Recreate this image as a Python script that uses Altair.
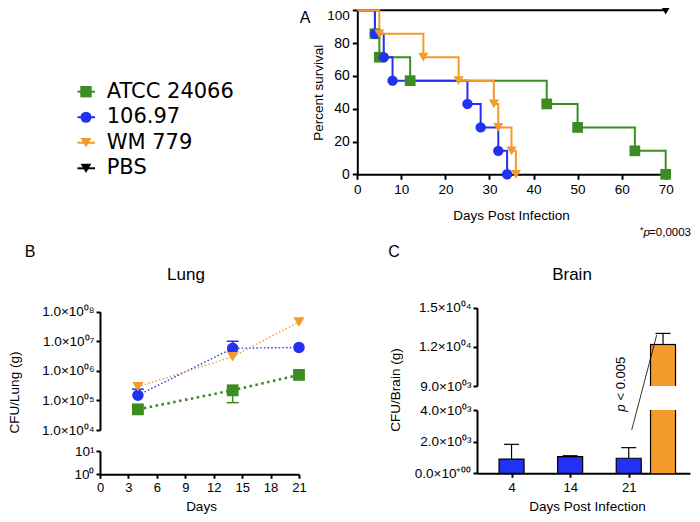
import altair as alt
import pandas as pd

FONT = "Liberation Sans"
LEG_FONT = "DejaVu Sans"
W, H = 684, 506

# ---------------- shared series ----------------
strains = ["ATCC 24066", "106.97", "WM 779", "PBS"]
colors = ["#3b8d22", "#2232f4", "#f39a2c", "#000000"]
shapes = ["square", "circle", "triangle-down", "triangle-down"]

# ---------------- Panel A: survival ----------------
atcc_days = [0, 4, 5, 12, 43, 50, 63, 70]
atcc_surv = [100, 85.7, 71.4, 57.1, 42.9, 28.6, 14.3, 0]
s10697_days = [0, 4, 6, 8, 25, 28, 32, 34]
s10697_surv = [100, 85.7, 71.4, 57.1, 42.9, 28.6, 14.3, 0]
wm779_days = [0, 5, 15, 23, 31, 32, 35, 36]
wm779_surv = [100, 85.7, 71.4, 57.1, 42.9, 28.6, 14.3, 0]
pbs_days = [0, 70]
pbs_surv = [100, 100]
surv_x_ticks = [0, 10, 20, 30, 40, 50, 60, 70]
surv_y_ticks = [0, 20, 40, 60, 80, 100]

# ---------------- Panel B: lung CFU ----------------
lung_days = [4, 14, 21]
lung_atcc = [5.0e4, 2.2e5, 7.3e5]
lung_atcc_lo = [5.0e4, 8.4e4, 7.3e5]
lung_atcc_hi = [5.0e4, 2.2e5, 7.3e5]
lung_10697 = [1.5e5, 5.8e6, 6.2e6]
lung_10697_lo = [1.5e5, 5.8e6, 6.2e6]
lung_10697_hi = [2.4e5, 1.0e7, 6.2e6]
lung_wm779 = [2.9e5, 3.0e6, 4.5e7]
lung_wm779_lo = [2.9e5, 3.0e6, 4.5e7]
lung_wm779_hi = [2.9e5, 4.5e6, 4.5e7]
lung_x_ticks = [0, 3, 6, 9, 12, 15, 18, 21]
lung_up_ticks = [1e4, 1e5, 1e6, 1e7, 1e8]
lung_up_labels = ["1.0×10⁰⁴", "1.0×10⁰⁵", "1.0×10⁰⁶", "1.0×10⁰⁷", "1.0×10⁰⁸"]
lung_low_ticks = [1, 10]
lung_low_labels = ["10⁰", "10¹"]

# ---------------- Panel C: brain CFU ----------------
brain_day_labels = ["4", "14", "21"]
brain_day = ["4", "14", "21", "21"]
brain_strain = ["106.97", "106.97", "106.97", "WM 779"]
brain_mean = [900, 1050, 950, 12180]
brain_hi = [1830, 1110, 1620, 13030]
brain_up_ticks = [9000, 12000, 15000]
brain_up_labels = ["9.0×10⁰³", "1.2×10⁰⁴", "1.5×10⁰⁴"]
brain_low_ticks = [0, 2000, 4000]
brain_low_labels = ["0.0×10⁺⁰⁰", "2.0×10⁰³", "4.0×10⁰³"]

# ---------------- tables ----------------
rows = []
for name, ds, vs in [("PBS", pbs_days, pbs_surv), ("ATCC 24066", atcc_days, atcc_surv),
                     ("106.97", s10697_days, s10697_surv), ("WM 779", wm779_days, wm779_surv)]:
    for d, v in zip(ds, vs):
        rows.append({"strain": name, "day": d, "surv": v})
surv_df = pd.DataFrame(rows)

rows = []
for name, m, lo, hi in [("ATCC 24066", lung_atcc, lung_atcc_lo, lung_atcc_hi),
                        ("106.97", lung_10697, lung_10697_lo, lung_10697_hi),
                        ("WM 779", lung_wm779, lung_wm779_lo, lung_wm779_hi)]:
    for d, a, b, c in zip(lung_days, m, lo, hi):
        rows.append({"strain": name, "day": d, "cfu": a, "lo": b, "hi": c})
lung_df = pd.DataFrame(rows)
lung_low_df = pd.DataFrame({"day": [0, 21], "v": [1, 10]})

brain_df = pd.DataFrame({
    "strain": brain_strain,
    "slot": [brain_day_labels.index(d) + (0.585 if s == "WM 779" else 0.0)
             for d, s in zip(brain_day, brain_strain)],
    "mean": brain_mean,
    "hi": brain_hi,
})
legend_df = pd.DataFrame({"strain": strains})


def label_expr(values, labels):
    expr = "''"
    for v, l in reversed(list(zip(values, labels))):
        tol = abs(v) * 1e-6 + 1e-9
        expr = f"(abs(datum.value - {v}) <= {tol}) ? '{l}' : ({expr})"
    return expr


AX = dict(domainColor="black", domainWidth=2, tickColor="black", tickWidth=2, tickSize=5,
          labelColor="black", labelFont=FONT, labelFontSize=13, labelPadding=3,
          labelFlush=False, labelOverlap=False, grid=False,
          titleFont=FONT, titleFontSize=13.5, titleColor="black", titleFontWeight="normal",
          titleAlign="center", titleBaseline="middle")


def axis(**kw):
    d = dict(AX)
    d.update(kw)
    return alt.Axis(**d)


cscale = alt.Scale(domain=strains, range=colors)
shscale = alt.Scale(domain=strains, range=shapes)
COLOR = alt.Color("strain:N", scale=cscale, legend=None)
SHAPE = alt.Shape("strain:N", scale=shscale, legend=None)

# ---------------- Panel A chart ----------------
sx = alt.X("day:Q", scale=alt.Scale(domain=[0, 70], range=[349.3, 657.7], nice=False, zero=False),
           axis=axis(orient="bottom", offset=-(H - 166.3), values=surv_x_ticks, labelFontSize=13.5,
                     title="Days Post Infection", titleX=503, titleY=40.7))
sy = alt.Y("surv:Q", scale=alt.Scale(domain=[0, 100], range=[166.3, 2.3], nice=False, zero=False),
           axis=axis(orient="left", offset=-349.3, values=surv_y_ticks,
                     labelFontSize={"condition": {"test": "datum.value == 100", "value": 13.5}, "value": 14},
                     labelOffset={"condition": {"test": "datum.value == 100", "value": 5.5}, "value": 0},
                     title="Percent survival", titleX=-39.3, titleY=84.3))
surv_lines = alt.Chart(surv_df).mark_line(interpolate="step-after", strokeWidth=2).encode(
    x=sx, y=sy, color=COLOR)
surv_pts = alt.Chart(surv_df).transform_filter("datum.day > 0").mark_point(
    filled=True, opacity=1, strokeWidth=0).encode(
    x=sx, y=sy, color=COLOR, shape=SHAPE,
    size=alt.Size("strain:O", scale=alt.Scale(domain=strains, range=[115, 95, 110, 60]), legend=None))
surv = alt.layer(surv_lines, surv_pts)

# ---------------- legend ----------------
ly = alt.Y("strain:N", scale=alt.Scale(type="point", domain=strains, range=[83.7, 160.3], padding=0),
           axis=None)
leg_rule = alt.Chart(legend_df).mark_rule(strokeWidth=2).encode(
    x=alt.value(69.5), x2=alt.value(87), y=ly, color=COLOR)
leg_pts = alt.Chart(legend_df).mark_point(filled=True, opacity=1, strokeWidth=0).encode(
    x=alt.value(78), y=ly, color=COLOR, shape=SHAPE,
    size=alt.Size("strain:O", scale=alt.Scale(domain=strains, range=[130, 115, 125, 60]), legend=None))
leg_txt = alt.Chart(legend_df).mark_text(align="left", baseline="middle", font=LEG_FONT,
                                          fontSize=21, color="black").encode(
    x=alt.value(98.7), y=ly, text="strain:N")
legend = alt.layer(leg_rule, leg_pts, leg_txt)

# ---------------- Panel B chart ----------------
lxs = alt.Scale(domain=[0, 21], range=[92, 291], nice=False, zero=False)
lys_up = alt.Scale(type="log", domain=[1e4, 1e8], range=[422, 303.7], nice=False)
lys_low = alt.Scale(type="log", domain=[1, 10], range=[466.3, 443], nice=False)
ax_lung_up = axis(orient="left", offset=-92, values=lung_up_ticks,
                  labelExpr=label_expr(lung_up_ticks, lung_up_labels), labelFontSize=13.5,
                  tickSize=4, labelPadding=2, title="CFU/Lung (g)", titleX=-86, titleY=384)
LX = alt.X("day:Q", scale=lxs, axis=None)


def LY(f):
    return alt.Y(f"{f}:Q", scale=lys_up, axis=ax_lung_up)


lung_line_g = alt.Chart(lung_df).transform_filter("datum.strain == 'ATCC 24066'").mark_line(
    strokeDash=[2.5, 3.5], strokeWidth=2.6).encode(x=LX, y=LY("cfu"), color=COLOR)
lung_line_o = alt.Chart(lung_df).transform_filter("datum.strain != 'ATCC 24066'").mark_line(
    strokeDash=[1.5, 2.2], strokeWidth=1.4).encode(x=LX, y=LY("cfu"), color=COLOR)
lung_err = alt.Chart(lung_df).mark_rule(strokeWidth=1.5).encode(
    x=LX, y=LY("lo"), y2="hi:Q", color=COLOR)
lung_cap_hi = alt.Chart(lung_df).transform_filter("datum.hi > datum.cfu").mark_tick(
    orient="horizontal", size=12, thickness=1.5, opacity=1).encode(x=LX, y=LY("hi"), color=COLOR)
lung_cap_lo = alt.Chart(lung_df).transform_filter("datum.lo < datum.cfu").mark_tick(
    orient="horizontal", size=12, thickness=1.5, opacity=1).encode(x=LX, y=LY("lo"), color=COLOR)
lung_pts = alt.Chart(lung_df).mark_point(filled=True, opacity=1, strokeWidth=0).encode(
    x=LX, y=LY("cfu"), color=COLOR, shape=SHAPE,
    size=alt.Size("strain:O", scale=alt.Scale(domain=strains, range=[140, 115, 130, 60]), legend=None))
lung_up = alt.layer(lung_line_g, lung_line_o, lung_err, lung_cap_hi, lung_cap_lo, lung_pts)

lung_low = alt.Chart(lung_low_df).mark_point(opacity=0).encode(
    x=alt.X("day:Q", scale=lxs,
            axis=axis(orient="bottom", offset=-(H - 466.3), values=lung_x_ticks, tickSize=4,
                      title="Days", titleX=193, titleY=32.5)),
    y=alt.Y("v:Q", scale=lys_low,
            axis=axis(orient="left", offset=-92, values=lung_low_ticks, tickSize=4, labelPadding=2,
                      labelExpr=label_expr(lung_low_ticks, lung_low_labels), labelFontSize=13.5,
                      title=None)))

# ---------------- Panel C chart ----------------
bxs = alt.Scale(domain=[-0.504, 2.96], range=[469, 682], nice=False, zero=False)
bys_up = alt.Scale(domain=[9000, 15000], range=[378, 299.7], clamp=True, nice=False, zero=False)
bys_low = alt.Scale(domain=[0, 4000], range=[465.3, 402], clamp=True, nice=False, zero=False)
ax_b_up = axis(orient="left", offset=-469, values=brain_up_ticks, tickSize=4, labelPadding=2,
               labelExpr=label_expr(brain_up_ticks, brain_up_labels), labelFontSize=13.5,
               title="CFU/Brain (g)", titleX=-82, titleY=381.5)
ax_b_low = axis(orient="left", offset=-469, values=brain_low_ticks, tickSize=4, labelPadding=2,
                labelExpr=label_expr(brain_low_ticks, brain_low_labels), labelFontSize=13.5,
                title=None)
ax_b_x = axis(orient="bottom", offset=-(H - 465.3), values=[0, 1, 2], tickSize=4,
              labelExpr=label_expr([0, 1, 2], brain_day_labels), labelPadding=4,
              title="Days Post Infection", titleX=579, titleY=33.5)


def brain_layer(ys, yaxis, xaxis, upper):
    BX = alt.X("slot:Q", scale=bxs, axis=xaxis)

    def BY(f):
        return alt.Y(f"{f}:Q", scale=ys, axis=yaxis, stack=None)

    orange = "datum.strain == 'WM 779'"
    blue = "datum.strain == '106.97'"
    layers = []
    if not upper:
        layers.append(alt.Chart(brain_df).transform_filter(blue).mark_bar(
            size=25, stroke="black", strokeWidth=1.2, orient="vertical").encode(
            x=BX, y=BY("mean"), y2=alt.datum(0), color=COLOR))
    layers.append(alt.Chart(brain_df).transform_filter(orange).mark_bar(
        size=25, strokeWidth=0, orient="vertical").encode(
        x=BX, y=BY("mean"), y2=alt.datum(0), color=COLOR))
    for dx in (-12.5, 12.5):
        layers.append(alt.Chart(brain_df).transform_filter(orange).mark_rule(
            strokeWidth=1.2, color="black", xOffset=dx).encode(x=BX, y=BY("mean"), y2=alt.datum(0)))
    sel = orange if upper else blue
    if upper:
        layers.append(alt.Chart(brain_df).transform_filter(orange).mark_tick(
            orient="horizontal", size=26, thickness=1.2, color="black", opacity=1).encode(
            x=BX, y=BY("mean")))
    layers.append(alt.Chart(brain_df).transform_filter(sel).mark_rule(
        strokeWidth=1.2, color="black").encode(x=BX, y=BY("mean"), y2="hi:Q"))
    layers.append(alt.Chart(brain_df).transform_filter(sel).mark_tick(
        orient="horizontal", size=15, thickness=1.2, color="black", opacity=1).encode(
        x=BX, y=BY("hi")))
    return alt.layer(*layers)


brain_up = brain_layer(bys_up, ax_b_up, None, True)
brain_low = brain_layer(bys_low, ax_b_low, ax_b_x, False)

# ---------------- annotations ----------------
one = pd.DataFrame({"k": [0]})


def txt(s, x, y, size=13, **kw):
    p = dict(font=FONT, fontSize=size, color="black", baseline="middle", align="center")
    p.update(kw)
    return alt.Chart(one).mark_text(text=s, **p).encode(x=alt.value(x), y=alt.value(y))


annots = [
    txt("A", 297, 10, 16),
    txt("B", 22, 244, 16),
    txt("C", 386, 244, 16),
    txt("Lung", 178, 267, 17),
    txt("Brain", 564, 267, 17),
    txt("*", 635.5, 222, 9, align="right"),
    txt("p", 642, 225, 11.5, align="right", fontStyle="italic"),
    txt("=0,0003", 683, 225, 11.5, align="right"),
    txt("p", 613, 403.7, 13.5, align="left", angle=270, fontStyle="italic"),
    txt("< 0.005", 613, 392.5, 13, align="left", angle=270),
    alt.Chart(one).mark_rule(strokeWidth=0.8, color="black").encode(
        x=alt.value(623.7), y=alt.value(422), x2=alt.value(648.7), y2=alt.value(327)),
]

chart = alt.layer(surv, legend, lung_up, lung_low, brain_up, brain_low, *annots).resolve_scale(
    x="independent", y="independent", color="independent", shape="independent", size="independent"
).properties(
    width=W, height=H, autosize=alt.AutoSizeParams(type="none"), padding=0
).configure_view(stroke=None)

chart.save("out.html", embed_options={"renderer": "svg", "actions": False})
